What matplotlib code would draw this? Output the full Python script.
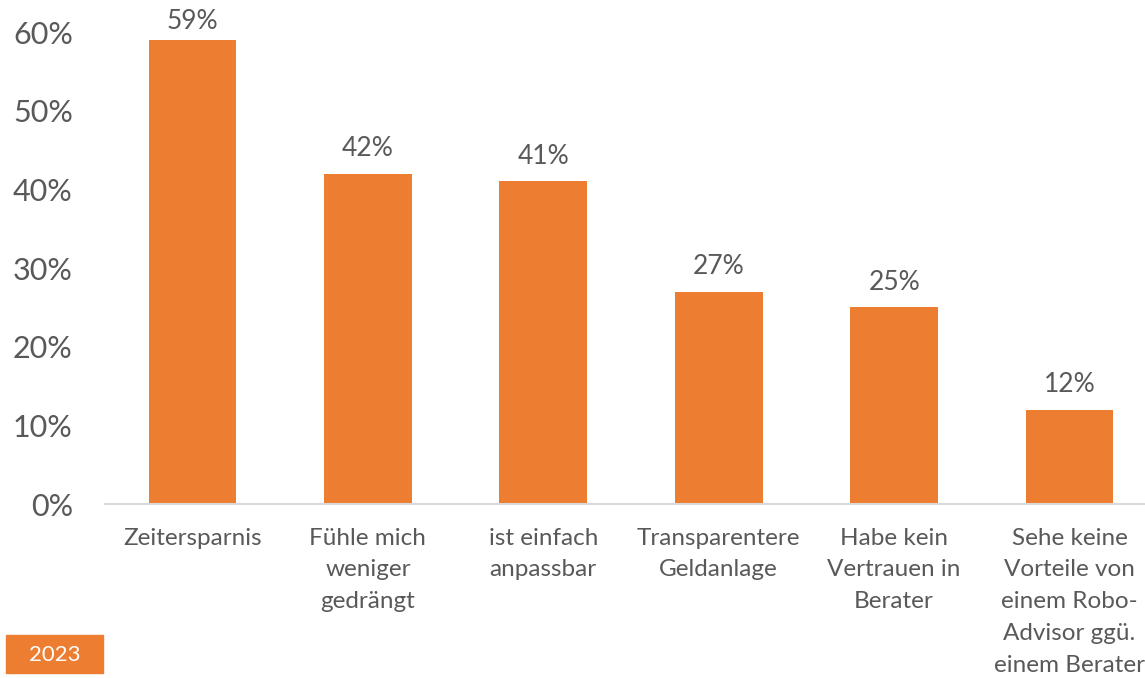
import matplotlib
matplotlib.use("Agg")
import matplotlib.pyplot as plt
from matplotlib.patches import Rectangle

categories = ["Zeitersparnis", "Fühle mich\nweniger\ngedrängt", "ist einfach\nanpassbar",
              "Transparentere\nGeldanlage", "Habe kein\nVertrauen in\nBerater",
              "Sehe keine\nVorteile von\neinem Robo-\nAdvisor ggü.\neinem Berater"]
values = [59, 42, 41, 27, 25, 12]
value_labels = ["59%", "42%", "41%", "27%", "25%", "12%"]
yticks = [0, 10, 20, 30, 40, 50, 60]
ytick_labels = ["0%", "10%", "20%", "30%", "40%", "50%", "60%"]
year_label = "2023"

ORANGE = "#ED7D31"
GRAY = "#595959"
plt.rcParams['font.family'] = ['Lato', 'DejaVu Sans']

fig = plt.figure(figsize=(11.45, 6.78), dpi=100)
ax = fig.add_axes([104.75/1145, 1-504/678, (1157.25-104.75)/1145, (504-32)/678])

x = list(range(len(categories)))
ymax = 60
ax.bar(x, values, width=0.5, color=ORANGE, zorder=2)
ax.set_xlim(-0.5, len(categories)-0.5)
ax.set_ylim(0, ymax)
ax.set_yticks(yticks)
ax.set_yticklabels(ytick_labels, fontsize=22, color=GRAY)
ax.set_xticks(x)
ax.set_xticklabels(categories, fontsize=17.5, color=GRAY, linespacing=1.64, va='top')
ax.tick_params(axis='both', length=0)
ax.tick_params(axis='x', pad=17)
ax.tick_params(axis='y', pad=23)
for s in ['top', 'right', 'left']:
    ax.spines[s].set_visible(False)
ax.spines['bottom'].set_color('#D9D9D9')
ax.spines['bottom'].set_linewidth(1.5)

for xi, v, lab in zip(x, values, value_labels):
    off = 9 if v < ymax - 3 else 4
    ax.annotate(lab, (xi, v), xytext=(0, off), textcoords='offset points',
                ha='center', va='bottom', fontsize=19, color=GRAY)

fig.patches.append(Rectangle((6/1145, 1-673/678), 97/1145, 38/678,
                             transform=fig.transFigure, color=ORANGE))
fig.text(54.5/1145, 1-655/678, year_label, ha='center', va='center',
         fontsize=16, color='white')

fig.savefig("out.png", dpi=100)
